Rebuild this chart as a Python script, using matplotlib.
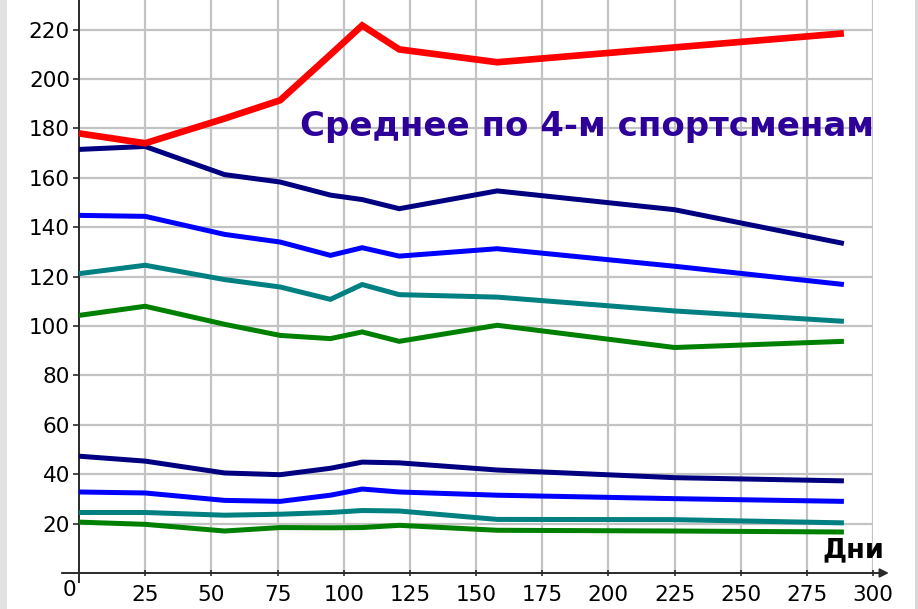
import matplotlib
matplotlib.use("Agg")
import matplotlib.pyplot as plt
from matplotlib.patches import Rectangle

# measurement days
days = [0, 25, 55, 76, 95, 107, 121, 158, 225, 289]

# mean values for the 4 athletes (upper group and lower group)
avg_red = [178.0, 174.0, 184.0, 191.4, 209.9, 221.7, 212.0, 206.8, 212.8, 218.5]
upper_navy = [171.5, 172.7, 161.3, 158.3, 153.0, 151.2, 147.5, 154.7, 147.1, 133.4]
upper_blue = [144.8, 144.4, 137.1, 134.0, 128.6, 131.7, 128.3, 131.3, 124.2, 116.8]
upper_teal = [121.2, 124.6, 118.8, 115.8, 110.8, 116.8, 112.7, 111.7, 106.1, 101.9]
upper_green = [104.3, 108.0, 100.7, 96.2, 94.9, 97.6, 93.8, 100.3, 91.3, 93.8]
lower_navy = [47.3, 45.3, 40.5, 39.8, 42.4, 44.9, 44.6, 41.7, 38.6, 37.3]
lower_blue = [32.8, 32.4, 29.4, 29.0, 31.5, 34.0, 32.8, 31.5, 30.1, 29.0]
lower_teal = [24.5, 24.5, 23.4, 23.8, 24.5, 25.3, 25.1, 21.7, 21.6, 20.3]
lower_green = [20.6, 19.7, 17.0, 18.4, 18.3, 18.4, 19.3, 17.3, 17.0, 16.6]

x_ticks = [25, 50, 75, 100, 125, 150, 175, 200, 225, 250, 275, 300]
y_ticks = [20, 40, 60, 80, 100, 120, 140, 160, 180, 200, 220]

title_text = "Среднее по 4-м спортсменам"
x_label = "Дни"

W, H = 918, 609
fig = plt.figure(figsize=(W / 100, H / 100), dpi=100)
fig.patch.set_facecolor("white")
fig.patches.append(Rectangle((0, 0), 7 / W, 1, transform=fig.transFigure,
                             facecolor="#E2E2E2", edgecolor="none", zorder=0))
fig.patches.append(Rectangle((915 / W, 0), 3 / W, 1, transform=fig.transFigure,
                             facecolor="#D8D8D8", edgecolor="none", zorder=0))

left_px, right_px, bottom_px, top_px = 79, 873, 573, 0
ax = fig.add_axes([left_px / W, (H - bottom_px) / H,
                   (right_px - left_px) / W, (bottom_px - top_px) / H])
ax.set_xlim(0, 300)
ax.set_ylim(0, 232)
ax.set_facecolor("none")
for s in ax.spines.values():
    s.set_visible(False)

grid_c = "#C3C3C3"
ax.vlines(x_ticks, 0, 232, color=grid_c, lw=1.6, zorder=1)
ax.hlines(y_ticks, 0, 300, color=grid_c, lw=1.6, zorder=1)

# axes lines
axis_c = "#2A2A2A"
ax.plot([0, 0], [-3.8, 232], color=axis_c, lw=1.4, clip_on=False, zorder=2)
ax.annotate("", xy=(306, 0), xytext=(-6.5, 0),
            arrowprops=dict(arrowstyle="-|>", color=axis_c, lw=1.4,
                            mutation_scale=13, shrinkA=0, shrinkB=0),
            annotation_clip=False, zorder=2)

series = [
    (lower_green, "#008000", 3.6),
    (lower_teal, "#008080", 3.6),
    (lower_blue, "#0000FF", 3.6),
    (lower_navy, "#000080", 3.6),
    (upper_green, "#008000", 3.6),
    (upper_teal, "#008080", 3.6),
    (upper_blue, "#0000FF", 3.6),
    (upper_navy, "#000080", 3.6),
    (avg_red, "#FF0000", 4.8),
]
for vals, col, lw in series:
    ax.plot(days, vals, color=col, lw=lw, solid_joinstyle="miter",
            solid_capstyle="butt", zorder=3)

tick_font = dict(family="DejaVu Sans", size=15.5)
ax.set_xticks(x_ticks)
ax.set_xticklabels([str(t) for t in x_ticks], **tick_font)
ax.set_yticks(y_ticks)
ax.set_yticklabels([str(t) for t in y_ticks], **tick_font)
ax.tick_params(axis="y", direction="out", length=4, width=1.2, color=axis_c, pad=2.5)
ax.tick_params(axis="x", direction="inout", length=5, width=1.2, color=axis_c, pad=6)
ax.text(-3.5, -6.8, "0", ha="center", va="center", **tick_font)

ax.text(83.5, 176.9, title_text, ha="left", va="baseline",
        family="DejaVu Sans", weight="bold", size=24.5, color="#2D0099", zorder=4)
ax.text(281, 6.5, x_label, ha="left", va="baseline",
        family="DejaVu Sans", weight="bold", size=19.5, color="black", zorder=4)

fig.savefig("out.png", dpi=100)
